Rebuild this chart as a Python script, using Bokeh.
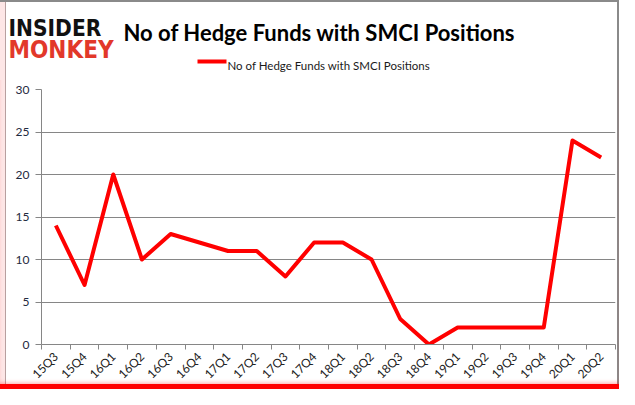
from bokeh.plotting import figure
from bokeh.models import Range1d, FixedTicker
from bokeh.layouts import column
from bokeh.core.properties import value
from bokeh.embed import file_html
from bokeh.resources import INLINE
from math import pi

quarters = ["15Q3", "15Q4", "16Q1", "16Q2", "16Q3", "16Q4", "17Q1", "17Q2", "17Q3", "17Q4",
            "18Q1", "18Q2", "18Q3", "18Q4", "19Q1", "19Q2", "19Q3", "19Q4", "20Q1", "20Q2"]
funds = [14, 7, 20, 10, 13, 12, 11, 11, 8, 12, 12, 10, 3, 0, 2, 2, 2, 2, 24, 22]
y_ticks = [0, 5, 10, 15, 20, 25, 30]
series_name = "No of Hedge Funds with SMCI Positions"
title_text = "No of Hedge Funds with SMCI Positions"
logo_top = "INSIDER"
logo_bottom = "MONKEY"

W = 619
HEAD_H = 80
MAIN_H = 309
LEFT, TOP, RIGHT, BOTTOM = 41, 89, 615, 344   # plot frame in page pixels
xs = [i + 0.5 for i in range(len(quarters))]

GRAY = "#8a8a8a"
head_shadow = ", ".join([
    "inset -2px 0 0 0 " + GRAY,
    "inset 0 2px 0 0 " + GRAY,
    "inset 5px 0 0 0 #fde6e6",
    "inset 6px 0 0 0 #b8a0a0",
])
main_shadow = ", ".join([
    "inset 0 -5px 0 0 #ff0000",
    "inset 0 -8px 4px -2px rgba(255,0,0,0.35)",
    "inset -2px 0 0 0 " + GRAY,
    "inset 5px 0 0 0 #fde6e6",
    "inset 6px 0 0 0 #b8a0a0",
])

# ---------- header: logo, title, legend ----------
head = figure(width=W, height=HEAD_H, output_backend="svg", toolbar_location=None,
              x_range=Range1d(0, W), y_range=Range1d(HEAD_H, 0),
              x_axis_location=None, y_axis_location=None,
              min_border=0, styles={"box-shadow": head_shadow, "background": "white"})
head.frame_align = False
head.grid.visible = False
head.outline_line_color = None
head.background_fill_alpha = 0
head.border_fill_alpha = 0

logo_font = value("DejaVu Sans Condensed, DejaVu Sans")
head.text(x=[8], y=[27], text=[logo_top], text_font=logo_font, text_font_style="bold",
          text_font_size="22.5px", text_color="#111111", text_baseline="alphabetic")
head.text(x=[8], y=[49], text=[logo_bottom], text_font=logo_font, text_font_style="bold",
          text_font_size="24px", text_color="#e2382a", text_baseline="alphabetic")
head.text(x=[123], y=[31.5], text=[title_text], text_font=value("Lato"), text_font_style="bold",
          text_font_size="22px", text_color="#000000", text_baseline="alphabetic")
# legend key + label
head.line(x=[197, 226], y=[61, 61], line_color="#ff0000", line_width=4)
head.text(x=[227], y=[65], text=[series_name], text_font=value("Lato"),
          text_font_size="11.5px", text_color="#1a1a1a", text_baseline="alphabetic")

# ---------- main chart ----------
p = figure(width=W, height=MAIN_H, output_backend="svg", toolbar_location=None,
           x_range=Range1d(0, len(quarters)), y_range=Range1d(0, 30),
           styles={"box-shadow": main_shadow, "background": "white"})
p.frame_align = False
p.min_border_left = LEFT
p.min_border_right = W - RIGHT
p.min_border_top = TOP - HEAD_H
p.min_border_bottom = MAIN_H - (BOTTOM - HEAD_H)
p.outline_line_color = None
p.background_fill_color = "white"
p.border_fill_alpha = 0

p.xaxis.ticker = FixedTicker(ticks=xs, minor_ticks=list(range(len(quarters) + 1)))
p.xaxis.major_label_overrides = {x: q for x, q in zip(xs, quarters)}
p.xaxis.major_label_orientation = pi / 4
p.xaxis.major_tick_out = 0
p.xaxis.major_tick_in = 0
p.xaxis.minor_tick_out = 5
p.xaxis.minor_tick_in = 0
p.xaxis.minor_tick_line_color = "#868686"
p.xaxis.axis_line_color = "#868686"
p.xaxis.major_label_text_font = "Lato"
p.xaxis.major_label_text_font_size = "12px"
p.xaxis.major_label_text_color = "#222222"
p.xaxis.major_label_standoff = 5

p.yaxis.ticker = FixedTicker(ticks=y_ticks)
p.yaxis.minor_tick_line_color = None
p.yaxis.major_tick_out = 6
p.yaxis.major_tick_in = 0
p.yaxis.major_tick_line_color = "#868686"
p.yaxis.axis_line_color = "#868686"
p.yaxis.major_label_text_font = "Lato"
p.yaxis.major_label_text_font_size = "12px"
p.yaxis.major_label_text_color = "#1f2a40"
p.yaxis.major_label_standoff = 6

p.xgrid.grid_line_color = None
p.ygrid.ticker = FixedTicker(ticks=y_ticks)
p.ygrid.grid_line_color = "#868686"
p.ygrid.grid_line_width = 1

p.line(xs, funds, line_color="#ff0000", line_width=4, line_join="round")

layout = column(head, p, spacing=0)
open("out.html", "w").write(file_html(layout, INLINE))
